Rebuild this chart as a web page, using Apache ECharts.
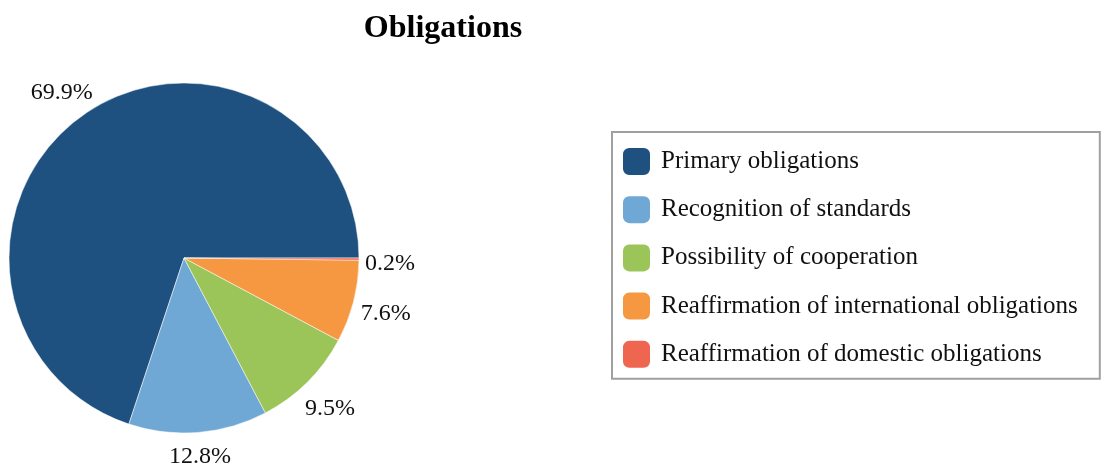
<!DOCTYPE html>
<html>
<head>
<meta charset="utf-8">
<script src="https://cdn.jsdelivr.net/npm/echarts@6/dist/echarts.min.js"></script>
<style>html,body{margin:0;padding:0;background:#fff}#c{width:1102px;height:466px}</style>
</head>
<body>
<div id="c"></div>
<script>
var categories = ["Primary obligations", "Recognition of standards", "Possibility of cooperation", "Reaffirmation of international obligations", "Reaffirmation of domestic obligations"];
var values = [69.9, 12.8, 9.5, 7.6, 0.2];
var colors = ["#1e5180", "#6fa7d5", "#9bc558", "#f59841", "#ee6550"];
var titleText = "Obligations";

var FONT = "Liberation Serif";
var chart = echarts.init(document.getElementById('c'), null, {renderer: 'canvas'});
var data = categories.map(function (n, i) { return {name: n, value: values[i], itemStyle: {color: colors[i]}}; });
chart.setOption({
  animation: false,
  title: {
    text: titleText, left: 438, top: 8, textAlign: 'center',
    textStyle: {fontFamily: FONT, fontSize: 32, fontWeight: 'bold', color: '#000'}
  },
  legend: {
    orient: 'vertical', left: 612, top: 132,
    padding: [14, 22, 9, 9],
    borderColor: '#a0a0a0', borderWidth: 2,
    itemWidth: 29, itemHeight: 29, itemGap: 17.2,
    icon: 'roundRect',
    data: categories,
    textStyle: {fontFamily: FONT, fontSize: 25, lineHeight: 28, color: '#111', padding: [0, 0, 0, 5]}
  },
  series: [{
    type: 'pie',
    center: [184, 258],
    radius: 175,
    startAngle: 0,
    clockwise: false,
    data: data,
    itemStyle: {borderColor: '#fff', borderWidth: 0.5},
    label: {
      show: true, position: 'outside', overflow: 'none', width: 200,
      formatter: function (p) { return p.value.toFixed(1) + '%'; },
      fontFamily: FONT, fontSize: 24, color: '#111'
    },
    labelLine: {show: false, length: 10, length2: 0},
    labelLayout: function (p) {
      var a = p.labelLinePoints[0], b = p.labelLinePoints[1];
      var dx = b[0] - a[0], dy = b[1] - a[1];
      var len = Math.sqrt(dx * dx + dy * dy) || 1;
      dx /= len; dy /= len;
      var w = p.labelRect.width, h = p.labelRect.height;
      var d = 6 + Math.abs(dx) * w / 2 + Math.abs(dy) * h / 2;
      return {
        x: a[0] + dx * d,
        y: a[1] + dy * d + 4,
        align: 'center', verticalAlign: 'middle'
      };
    }
  }]
});
</script>
</body>
</html>
